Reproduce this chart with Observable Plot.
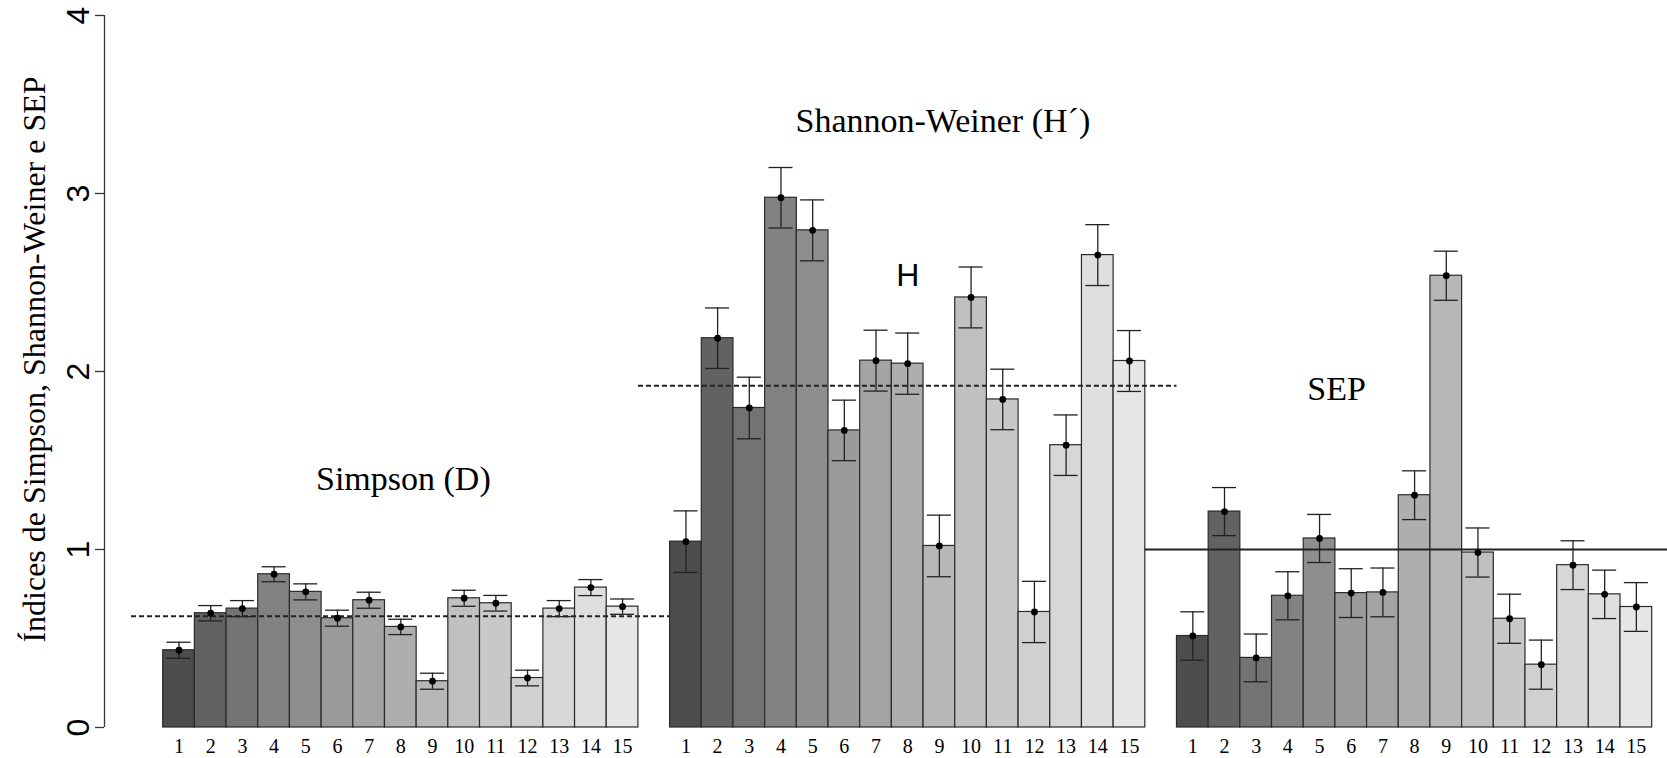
<!DOCTYPE html>
<html>
<head>
<meta charset="utf-8">
<script src="https://cdn.jsdelivr.net/npm/d3@7"></script>
<script src="https://cdn.jsdelivr.net/npm/@observablehq/plot@0.6"></script>
<style>
  html, body { margin: 0; padding: 0; background: #fff; }
  #chart svg { display: block; }
</style>
</head>
<body>
<div id="chart"></div>
<script>
// ---- data ----
const sites = ["1","2","3","4","5","6","7","8","9","10","11","12","13","14","15"];
const indexNames = ["Simpson (D)", "Shannon-Weiner (H´)", "SEP"];
const simpson   = [0.434,0.642,0.668,0.861,0.762,0.614,0.715,0.565,0.260,0.726,0.698,0.278,0.668,0.786,0.679];
const simpsonSE = [0.045,0.043,0.045,0.042,0.045,0.045,0.045,0.043,0.045,0.045,0.044,0.044,0.045,0.045,0.043];
const shannon   = [1.044,2.187,1.795,2.976,2.793,1.669,2.061,2.044,1.020,2.416,1.843,0.649,1.586,2.654,2.059];
const shannonSE = [0.173,0.170,0.173,0.170,0.171,0.170,0.171,0.172,0.173,0.171,0.170,0.172,0.170,0.171,0.171];
const sep       = [0.514,1.213,0.391,0.740,1.062,0.755,0.759,1.305,2.538,0.983,0.611,0.353,0.912,0.748,0.677];
const sepSE     = [0.136,0.135,0.134,0.135,0.135,0.137,0.137,0.137,0.138,0.138,0.138,0.138,0.137,0.136,0.137];
const refValues = [0.625, 1.92, 1.0];        // mean line per index
const yTicks    = [0, 1, 2, 3, 4];
const yTitle    = "Índices de Simpson, Shannon-Weiner e SEP";
const innerLabel = "H";

// ---- layout / style ----
const grays = ["#4D4D4D","#626262","#737373","#828282","#8E8E8E","#9A9A9A","#A4A4A4","#AEAEAE",
               "#B7B7B7","#C0C0C0","#C8C8C8","#D0D0D0","#D7D7D7","#DFDFDF","#E6E6E6"];
const groupStride = 16;            // 15 bars + one empty slot
const xMin = -1.853, xMax = 47.483;
const serif = "'Liberation Serif', 'Times New Roman', serif";
const sans = "'Liberation Sans', Arial, sans-serif";

const series = [simpson, shannon, sep];
const seList = [simpsonSE, shannonSE, sepSE];
const bars = [];
series.forEach((vals, g) => {
  vals.forEach((v, i) => {
    bars.push({group: g, site: sites[i], idx: i, slot: g * groupStride + i, value: v, se: seList[g][i]});
  });
});

const refs = refValues.map((v, g) => ({
  value: v,
  x1: g * groupStride - 1,
  x2: g === 2 ? xMax : g * groupStride + 16,
  dashed: g !== 2
}));

const capHalf = 0.38;
const annFont = 34;

const chart = Plot.plot({
  width: 1667,
  height: 758,
  marginLeft: 104,
  marginRight: 0,
  marginTop: 15,
  marginBottom: 31,
  x: {type: "linear", domain: [xMin, xMax], axis: null},
  y: {domain: [0, 4], axis: null, label: null},
  marks: [
    // bars
    Plot.rect(bars, {
      x1: d => d.slot, x2: d => d.slot + 1, y1: 0, y2: "value",
      fill: d => grays[d.idx], stroke: "#2a2a2a", strokeWidth: 1.2
    }),
    // reference lines
    Plot.ruleY(refs.filter(d => d.dashed), {
      y: "value", x1: "x1", x2: "x2", stroke: "#222", strokeWidth: 2, strokeDasharray: "5,3"
    }),
    Plot.ruleY(refs.filter(d => !d.dashed), {
      y: "value", x1: "x1", x2: "x2", stroke: "#222", strokeWidth: 2
    }),
    // error bars
    Plot.ruleX(bars, {
      x: d => d.slot + 0.5, y1: d => d.value - d.se, y2: d => d.value + d.se,
      stroke: "#222", strokeWidth: 1.3
    }),
    Plot.ruleY(bars, {
      y: d => d.value + d.se, x1: d => d.slot + 0.5 - capHalf, x2: d => d.slot + 0.5 + capHalf,
      stroke: "#222", strokeWidth: 1.3
    }),
    Plot.ruleY(bars, {
      y: d => d.value - d.se, x1: d => d.slot + 0.5 - capHalf, x2: d => d.slot + 0.5 + capHalf,
      stroke: "#222", strokeWidth: 1.3
    }),
    Plot.dot(bars, {x: d => d.slot + 0.5, y: "value", r: 3.4, fill: "#000", stroke: "none"}),
    // x labels
    Plot.text(bars, {
      x: d => d.slot + 0.5, y: 0, text: "site", dy: 25, lineAnchor: "bottom",
      fontFamily: serif, fontSize: 20, fill: "#000"
    }),
    // y axis
    Plot.ruleX([xMin], {y1: 0, y2: 4, stroke: "#333", strokeWidth: 1.3}),
    Plot.axisY({ticks: yTicks, tickSize: 9, tickFormat: () => "", stroke: "#333", strokeWidth: 1.3, label: null}),
    Plot.text(yTicks, {
      x: xMin, y: d => d, text: d => String(d), rotate: -90, dx: -16, lineAnchor: "bottom",
      textAnchor: "middle", fontFamily: sans, fontSize: 32, fill: "#000"
    }),
    // y title
    Plot.text([yTitle], {
      frameAnchor: "left", dx: -60, text: d => d, rotate: -90, lineAnchor: "bottom",
      textAnchor: "middle", fontFamily: serif, fontSize: 32, fill: "#000", dy: -12
    }),
    // group annotations
    Plot.text([indexNames[0]], {x: 7.58, y: 1.336, text: d => d, lineAnchor: "bottom", fontFamily: serif, fontSize: annFont, fill: "#000"}),
    Plot.text([indexNames[1]], {x: 24.61, y: 3.344, text: d => d, lineAnchor: "bottom", fontFamily: serif, fontSize: annFont, fill: "#000"}),
    Plot.text([indexNames[2]], {x: 37.04, y: 1.838, text: d => d, lineAnchor: "bottom", fontFamily: serif, fontSize: annFont, fill: "#000"}),
    Plot.text([innerLabel], {x: 23.5, y: 2.478, text: d => d, lineAnchor: "bottom", fontFamily: sans, fontSize: 32, fill: "#000"})
  ]
});
document.getElementById("chart").appendChild(chart);
</script>
</body>
</html>
